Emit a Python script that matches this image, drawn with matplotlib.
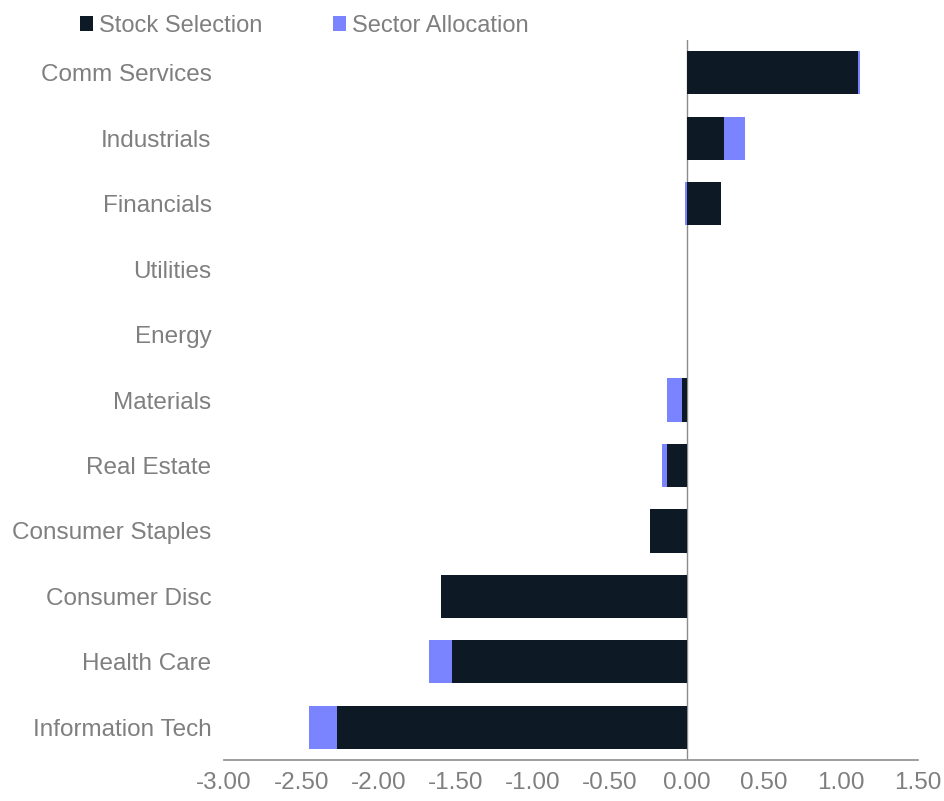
import numpy as np
import matplotlib.pyplot as plt

plt.rcParams['font.family'] = ['Liberation Sans', 'DejaVu Sans']

sectors = ["Comm Services", "Industrials", "Financials", "Utilities", "Energy",
           "Materials", "Real Estate", "Consumer Staples", "Consumer Disc",
           "Health Care", "Information Tech"]
stock_selection = [1.11, 0.24, 0.22, 0.0, 0.0, -0.03, -0.13, -0.24, -1.59, -1.52, -2.27]
sector_allocation = [0.013, 0.14, -0.014, 0.0, 0.0, -0.10, -0.03, 0.0, -0.006, -0.15, -0.18]
xticks = [-3.0, -2.5, -2.0, -1.5, -1.0, -0.5, 0.0, 0.5, 1.0, 1.5]

dark = "#0E1926"
blue = "#7B84FF"
grey = "#7F7F7F"

stock = np.array(stock_selection)
alloc = np.array(sector_allocation)
# stack the allocation on the stock bar only when both point the same way
alloc_left = np.where(np.sign(stock) == np.sign(alloc), stock, 0.0)

fig = plt.figure(figsize=(9.44, 8.01), dpi=100)
ax = fig.add_axes([0.2373, 0.0512, 0.7352, 0.8988])

y = np.arange(len(sectors))
ax.barh(y, stock, height=0.66, color=dark, label="Stock Selection")
ax.barh(y, alloc, left=alloc_left, height=0.66, color=blue, label="Sector Allocation")

ax.set_xlim(-3.0, 1.5)
ax.set_ylim(len(sectors) - 0.5, -0.5)
ax.set_yticks(y)
ax.set_yticklabels(sectors)
ax.set_xticks(xticks)
ax.set_xticklabels([f"{v:.2f}" for v in xticks])
ax.tick_params(axis='both', length=0, labelsize=17.5, colors=grey)
ax.tick_params(axis='y', pad=9)
ax.tick_params(axis='x', pad=9)

for side in ['top', 'right', 'left']:
    ax.spines[side].set_visible(False)
ax.spines['bottom'].set_color('#8C8C8C')
ax.spines['bottom'].set_linewidth(1.2)
ax.axvline(0, color='#8C8C8C', linewidth=1.0, zorder=0)

fig.legend(loc='upper left', bbox_to_anchor=(0.062, 1.008), ncol=2, frameon=False,
           fontsize=17, labelcolor=grey, handlelength=0.56, handleheight=0.56,
           handletextpad=0.25, columnspacing=3.0)

fig.savefig("out.png", dpi=100)
